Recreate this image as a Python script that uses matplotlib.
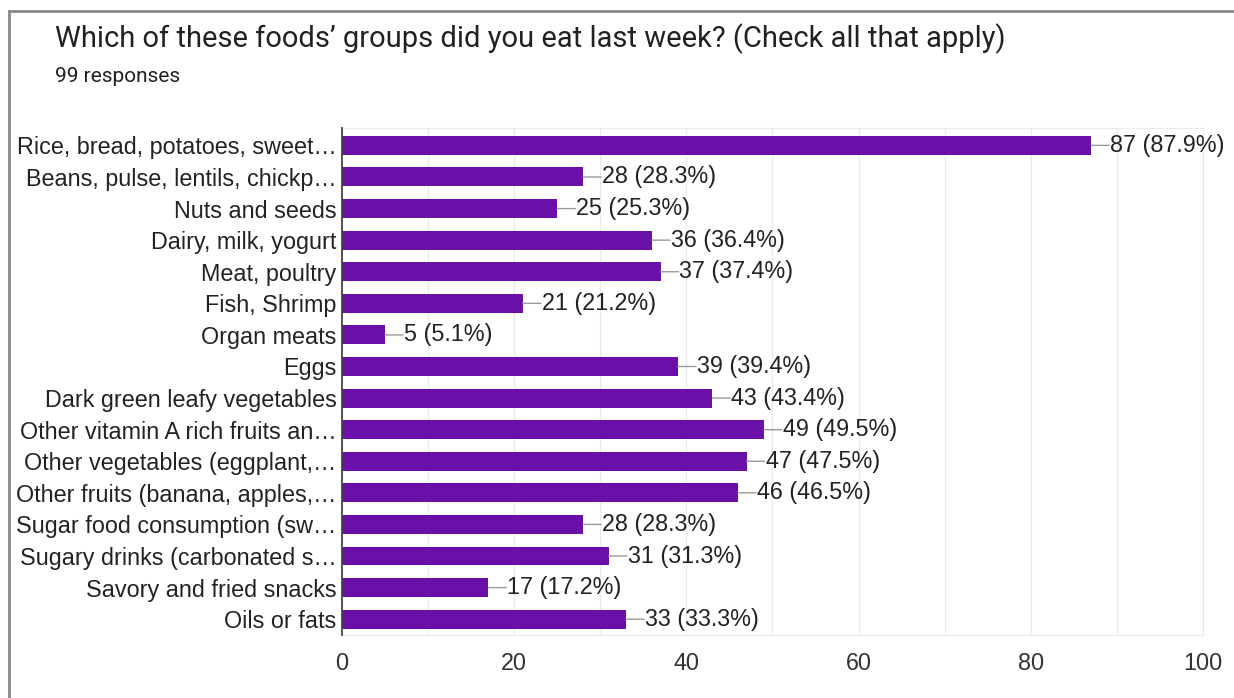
import matplotlib.pyplot as plt
from matplotlib.lines import Line2D
from matplotlib.ticker import MultipleLocator

labels = ["Rice, bread, potatoes, sweet\u2026",
          "Beans, pulse, lentils, chickp\u2026",
          "Nuts and seeds",
          "Dairy, milk, yogurt",
          "Meat, poultry",
          "Fish, Shrimp",
          "Organ meats",
          "Eggs",
          "Dark green leafy vegetables",
          "Other vitamin A rich fruits an\u2026",
          "Other vegetables (eggplant,\u2026",
          "Other fruits (banana, apples,\u2026",
          "Sugar food consumption (sw\u2026",
          "Sugary drinks (carbonated s\u2026",
          "Savory and fried snacks",
          "Oils or fats"]
counts = [87, 28, 25, 36, 37, 21, 5, 39, 43, 49, 47, 46, 28, 31, 17, 33]
total = 99

purple = "#6a0fa8"
txt = "#222222"
fs = 16.8

fig = plt.figure(figsize=(12.34, 6.98), dpi=100)
ax = fig.add_axes([0.2771, 0.0903, 0.6978, 0.7263])

y = list(range(len(labels)))
ax.barh(y, counts, height=0.6, color=purple, zorder=3)
ax.set_ylim(15.5, -0.55)
ax.set_xlim(0, 100)

ax.xaxis.set_major_locator(MultipleLocator(20))
ax.xaxis.set_minor_locator(MultipleLocator(10))
ax.grid(axis="x", which="both", color="#ebebeb", lw=1, zorder=0)
ax.set_yticks(y)
ax.set_yticklabels(labels, fontsize=fs, color=txt, family="Liberation Sans")
for t in ax.get_xticklabels():
    t.set_fontsize(fs)
    t.set_color("#333333")
    t.set_family("Liberation Sans")
ax.tick_params(axis="both", which="both", length=0)
ax.tick_params(axis="y", pad=4)
ax.tick_params(axis="x", pad=12)

for s in ["top", "bottom", "right"]:
    ax.spines[s].set_color("#ebebeb")
ax.spines["left"].set_color("#444444")
ax.spines["left"].set_linewidth(1.3)
ax.spines["left"].set_zorder(4)

# value labels with leader lines
for i, c in enumerate(counts):
    ax.annotate("", xy=(c, i), xytext=(c + 2.1, i),
                arrowprops=dict(arrowstyle="-", color="#999999", lw=1, shrinkA=0, shrinkB=0))
    ax.text(c + 2.2, i, f"{c} ({c / total * 100:.1f}%)", va="center", ha="left",
            fontsize=fs, color=txt, family="Liberation Sans")

fig.text(55 / 1234, 1 - 39 / 698, "Which of these foods\u2019 groups did you eat last week? (Check all that apply)",
         fontsize=21, color="#202124", family="Roboto", va="center", ha="left")
fig.text(55 / 1234, 1 - 76 / 698, "99 responses", fontsize=15, color="#202124",
         family="Roboto", va="center", ha="left")

# screenshot frame (top and left edges)
fig.add_artist(Line2D([9 / 1234, 1], [1 - 11 / 698, 1 - 11 / 698], color="#888888", lw=2))
fig.add_artist(Line2D([9 / 1234, 9 / 1234], [0, 1 - 11 / 698], color="#888888", lw=2))

fig.savefig("out.png", dpi=100)
